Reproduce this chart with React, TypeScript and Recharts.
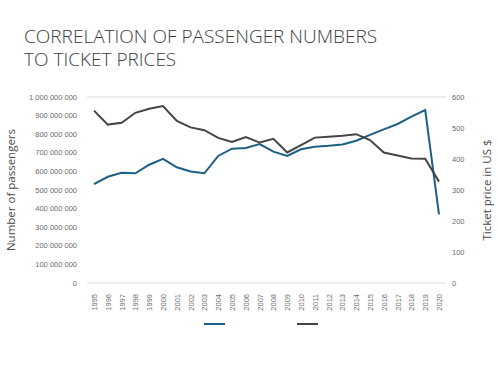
import React from "react";
import {
  LineChart,
  Line,
  XAxis,
  YAxis,
  CartesianGrid,
} from "recharts";

const years = [
  "1995", "1996", "1997", "1998", "1999", "2000", "2001", "2002", "2003",
  "2004", "2005", "2006", "2007", "2008", "2009", "2010", "2011", "2012",
  "2013", "2014", "2015", "2016", "2017", "2018", "2019", "2020",
];

// passengers (left axis)
const passengers = [
  532e6, 571e6, 593e6, 590e6, 636e6, 667e6, 622e6, 600e6, 590e6,
  683e6, 722e6, 726e6, 747e6, 706e6, 683e6, 719e6, 733e6, 738e6,
  745e6, 765e6, 796e6, 826e6, 855e6, 894e6, 930e6, 369e6,
];

// ticket price in US $ (right axis)
const ticketPrice = [
  556, 511, 517, 549, 562, 571, 523, 502, 493,
  468, 455, 471, 453, 465, 421, 445, 469, 472,
  475, 480, 461, 421, 411, 402, 401, 327,
];

const leftTicks = [0, 1e8, 2e8, 3e8, 4e8, 5e8, 6e8, 7e8, 8e8, 9e8, 1e9];
const rightTicks = [0, 100, 200, 300, 400, 500, 600];

const BLUE = "#1d5f85";
const DARK = "#454545";
const TICK = "#6b6b6b";
const TICK_FONT = "Liberation Sans, Arial, sans-serif";

const data = years.map((year, i) => ({
  year,
  passengers: passengers[i],
  price: ticketPrice[i],
}));

const fmtBig = (v: number) =>
  String(Math.round(v)).replace(/\B(?=(\d{3})+(?!\d))/g, " ");

const YearTick = (props: any) => {
  const { x, y, payload } = props;
  return (
    <text
      x={x}
      y={y}
      transform={`rotate(-90, ${x}, ${y})`}
      textAnchor="end"
      dy={3}
      dx={-3}
      fontSize={7.5}
      fill={TICK}
      fontFamily={TICK_FONT}
    >
      {payload.value}
    </text>
  );
};

const LeftTick = (props: any) => {
  const { x, y, payload } = props;
  return (
    <text
      x={x - 10}
      y={y}
      dy={2.5}
      textAnchor="end"
      fontSize={7.5}
      fill={TICK}
      fontFamily={TICK_FONT}
    >
      {fmtBig(payload.value)}
    </text>
  );
};

const RightTick = (props: any) => {
  const { x, y, payload } = props;
  return (
    <text
      x={x + 6}
      y={y}
      dy={2.5}
      textAnchor="start"
      fontSize={7.5}
      fill={TICK}
      fontFamily={TICK_FONT}
    >
      {payload.value}
    </text>
  );
};

const titleStyle: React.CSSProperties = {
  position: "absolute",
  left: 24,
  fontFamily: "'Open Sans', sans-serif",
  fontWeight: 300,
  fontSize: 19,
  lineHeight: "20px",
  color: "#3d3d3d",
  whiteSpace: "nowrap",
};

const axisTitle = {
  fontSize: 11.5,
  fill: "#4a4a4a",
  fontFamily: "'Open Sans', sans-serif",
};

export default function App() {
  return (
    <div
      style={{
        position: "absolute",
        top: 0,
        left: 0,
        width: 500,
        height: 366,
        background: "#fff",
      }}
    >
      <div style={{ ...titleStyle, top: 26 }}>CORRELATION OF PASSENGER NUMBERS</div>
      <div style={{ ...titleStyle, top: 49 }}>TO TICKET PRICES</div>
      <LineChart
        width={500}
        height={366}
        data={data}
        margin={{ top: 97, right: 0, left: 0, bottom: 53 }}
      >
        <CartesianGrid vertical={false} stroke="#dcdcdc" strokeWidth={1} />
        <XAxis
          dataKey="year"
          interval={0}
          axisLine={false}
          tickLine={false}
          height={30}
          padding={{ left: 7, right: 7 }}
          tick={<YearTick />}
        />
        <YAxis
          yAxisId="left"
          width={87}
          domain={[0, 1e9]}
          ticks={leftTicks}
          interval={0}
          axisLine={false}
          tickLine={false}
          tickSize={0}
          tickMargin={0}
          tick={<LeftTick />}
          label={{
            value: "Number of passengers",
            angle: -90,
            position: "center",
            dx: -33,
            style: axisTitle,
          }}
        />
        <YAxis
          yAxisId="right"
          orientation="right"
          width={54}
          domain={[0, 600]}
          ticks={rightTicks}
          interval={0}
          axisLine={false}
          tickLine={false}
          tickSize={0}
          tickMargin={0}
          tick={<RightTick />}
          label={{
            value: "Ticket price in US $",
            angle: -90,
            position: "center",
            dx: 14,
            style: axisTitle,
          }}
        />
        <Line
          yAxisId="left"
          dataKey="passengers"
          stroke={BLUE}
          strokeWidth={2}
          dot={false}
          type="linear"
          isAnimationActive={false}
        />
        <Line
          yAxisId="right"
          dataKey="price"
          stroke={DARK}
          strokeWidth={2}
          dot={false}
          type="linear"
          isAnimationActive={false}
        />
      </LineChart>
      <div
        style={{
          position: "absolute",
          left: 204,
          top: 323,
          width: 21,
          height: 2,
          background: BLUE,
        }}
      />
      <div
        style={{
          position: "absolute",
          left: 297,
          top: 323,
          width: 21,
          height: 2,
          background: DARK,
        }}
      />
    </div>
  );
}
